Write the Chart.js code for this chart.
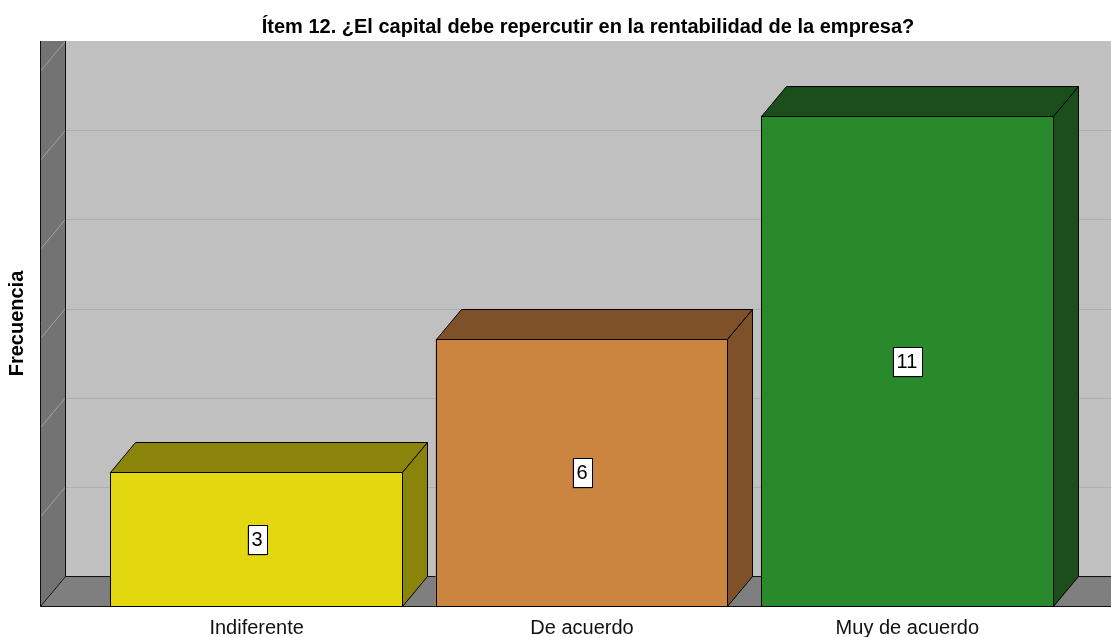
<!DOCTYPE html>
<html><head><meta charset="utf-8">
<script src="https://cdn.jsdelivr.net/npm/chart.js@4.4.1/dist/chart.umd.min.js"></script>
<style>html,body{margin:0;padding:0;background:#fff}#wrap{width:1111px;height:637px;position:relative}</style>
</head><body><div id="wrap"><canvas id="c" width="1111" height="637"></canvas></div>
<script>
const titleText = 'Ítem 12. ¿El capital debe repercutir en la rentabilidad de la empresa?';
const yAxisTitle = 'Frecuencia';
const categories = ['Indiferente', 'De acuerdo', 'Muy de acuerdo'];
const frequencies = [3, 6, 11];
const yTickValues = [0, 2, 4, 6, 8, 10, 12];
const frontColors = ['#E3D70F', '#CC8540', '#288A2A'];
const shadeColors = ['#8B840A', '#7E5129', '#1B4E1A'];

const DEPTH_X = 25, DEPTH_Y = 30, WALL_GAP = 54;
const FONT = '"Liberation Sans", Arial, sans-serif';

const threeD = {
  id: 'threeD',
  beforeDatasetsDraw(chart) {
    const {ctx, chartArea: a, scales: {y}} = chart;
    const W = chart.width;
    const fx = a.left - WALL_GAP + 0.5;
    const bx = fx + DEPTH_X;
    const topBack = y.getPixelForValue(y.max) - DEPTH_Y;
    const baseFront = Math.round(y.getPixelForValue(0)) + 0.5;
    const baseBack = baseFront - DEPTH_Y;
    ctx.save();
    ctx.fillStyle = '#C0C0C0';
    ctx.fillRect(bx, topBack, W - bx, baseBack - topBack);
    ctx.lineWidth = 1;
    ctx.strokeStyle = '#AEAEAE';
    yTickValues.forEach(v => {
      if (v === 0 || v === y.max) return;
      const py = Math.round(y.getPixelForValue(v) - DEPTH_Y) + 0.5;
      ctx.beginPath(); ctx.moveTo(bx, py); ctx.lineTo(W, py); ctx.stroke();
    });
    ctx.fillStyle = '#737373';
    ctx.beginPath();
    ctx.moveTo(fx, topBack); ctx.lineTo(bx, topBack); ctx.lineTo(bx, baseBack); ctx.lineTo(fx, baseFront);
    ctx.closePath(); ctx.fill();
    ctx.strokeStyle = '#A2A2A2';
    yTickValues.forEach(v => {
      if (v === 0) return;
      const py = y.getPixelForValue(v);
      ctx.beginPath(); ctx.moveTo(fx, py); ctx.lineTo(bx, py - DEPTH_Y); ctx.stroke();
    });
    ctx.fillStyle = '#7F7F7F';
    ctx.beginPath();
    ctx.moveTo(fx, baseFront); ctx.lineTo(bx, baseBack); ctx.lineTo(W, baseBack); ctx.lineTo(W, baseFront);
    ctx.closePath(); ctx.fill();
    ctx.strokeStyle = '#111';
    ctx.beginPath();
    ctx.moveTo(fx, topBack); ctx.lineTo(fx, baseFront); ctx.lineTo(W, baseFront);
    ctx.moveTo(bx, topBack); ctx.lineTo(bx, baseBack); ctx.lineTo(W, baseBack);
    ctx.moveTo(fx, baseFront); ctx.lineTo(bx, baseBack);
    ctx.stroke();
    ctx.restore();
  },
  afterDatasetsDraw(chart) {
    const {ctx} = chart;
    const meta = chart.getDatasetMeta(0);
    ctx.save();
    ctx.lineWidth = 1;
    ctx.strokeStyle = '#000';
    meta.data.forEach((el, i) => {
      const x0 = Math.round(el.x - el.width / 2) + 0.5;
      const x1 = Math.round(el.x + el.width / 2) - 0.5;
      const yt = Math.round(el.y) + 0.5;
      const yb = Math.round(el.base) + 0.5;
      ctx.fillStyle = shadeColors[i];
      ctx.beginPath();
      ctx.moveTo(x0, yt); ctx.lineTo(x0 + DEPTH_X, yt - DEPTH_Y); ctx.lineTo(x1 + DEPTH_X, yt - DEPTH_Y); ctx.lineTo(x1, yt);
      ctx.closePath(); ctx.fill(); ctx.stroke();
      ctx.beginPath();
      ctx.moveTo(x1, yt); ctx.lineTo(x1 + DEPTH_X, yt - DEPTH_Y); ctx.lineTo(x1 + DEPTH_X, yb - DEPTH_Y); ctx.lineTo(x1, yb);
      ctx.closePath(); ctx.fill(); ctx.stroke();
      // crisp front outline
      ctx.strokeRect(x0, yt, x1 - x0, yb - yt);
    });
    ctx.font = '20px ' + FONT;
    ctx.textAlign = 'center';
    ctx.textBaseline = 'middle';
    meta.data.forEach((el, i) => {
      const txt = String(frequencies[i]);
      const cx = Math.round(el.x);
      const cy = Math.round((el.y + el.base) / 2);
      const w = Math.round(ctx.measureText(txt).width) + 8;
      const h = 29;
      const lx = Math.round(cx - w / 2) + 0.5, ly = Math.round(cy - h / 2) + 0.5;
      ctx.fillStyle = 'rgba(0,0,0,0.35)';
      ctx.fillRect(lx - 1, ly + 1, w, h);
      ctx.fillStyle = '#FFFFFF';
      ctx.fillRect(lx, ly, w, h);
      ctx.strokeStyle = '#000';
      ctx.strokeRect(lx, ly, w, h);
      ctx.fillStyle = '#000';
      ctx.fillText(txt, cx, cy + 1);
    });
    ctx.restore();
  },
  afterDraw(chart) {
    const {ctx, chartArea: a, scales: {y}} = chart;
    const bx = a.left - WALL_GAP + DEPTH_X;
    ctx.save();
    ctx.font = 'bold 20px ' + FONT;
    ctx.fillStyle = '#000';
    ctx.textAlign = 'center';
    ctx.textBaseline = 'middle';
    ctx.fillText(titleText, (bx + chart.width) / 2, 27);
    // y axis title, centred on the full wall height
    const wallTop = y.getPixelForValue(y.max) - DEPTH_Y;
    const wallBottom = y.getPixelForValue(0);
    ctx.translate(17, (wallTop + wallBottom) / 2);
    ctx.rotate(-Math.PI / 2);
    ctx.font = 'bold 20px ' + FONT;
    ctx.fillText(yAxisTitle, 0, 0);
    ctx.restore();
  }
};

new Chart(document.getElementById('c'), {
  type: 'bar',
  data: {
    labels: categories,
    datasets: [{
      data: frequencies,
      backgroundColor: frontColors,
      borderColor: '#000',
      borderWidth: 0,
      borderSkipped: false,
      categoryPercentage: 0.9,
      barPercentage: 1
    }]
  },
  options: {
    responsive: false,
    animation: false,
    devicePixelRatio: 1,
    layout: {padding: {top: 71, right: 41, left: 0, bottom: 0}},
    plugins: {legend: {display: false}, tooltip: {enabled: false}, title: {display: false}},
    scales: {
      x: {
        offset: true,
        grid: {display: false, drawTicks: false},
        border: {display: false},
        ticks: {font: {family: FONT, size: 20}, color: '#111', padding: 10},
        afterFit(s) { s.height = 31; }
      },
      y: {
        min: 0, max: 12,
        grid: {display: false, drawTicks: false},
        border: {display: false},
        ticks: {display: false, stepSize: 2},
        title: {display: false, text: yAxisTitle},
        afterFit(s) { s.width = 94; }
      }
    }
  },
  plugins: [threeD]
});
</script>
</body></html>
